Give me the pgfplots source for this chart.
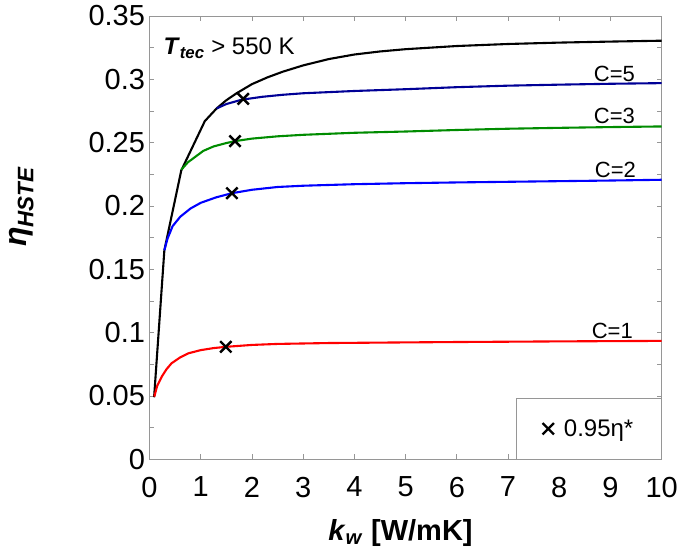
\documentclass[border=0pt]{standalone}
\usepackage{pgfplots}
\pgfplotsset{compat=1.18}
\usepackage{fontspec}
\setmainfont{Liberation Sans}
\definecolor{navy}{RGB}{0,0,150}
\definecolor{dgreen}{RGB}{0,140,0}
\definecolor{axgray}{RGB}{150,150,150}
\begin{document}
\begin{tikzpicture}
\useasboundingbox (-149.5pt,-98.7pt) rectangle (532.5pt,459.3pt);
\begin{axis}[
  at={(0pt,0pt)}, anchor=south west,
  width=512.2pt, height=443.3pt, scale only axis,
  xmin=0, xmax=10, ymin=0, ymax=0.35,
  xtick={0,1,2,3,4,5,6,7,8,9,10},
  ytick={0,0.05,0.1,0.15,0.2,0.25,0.3,0.35},
  yticklabels={0,0.05,0.1,0.15,0.2,0.25,0.3,0.35},
  minor ytick={0.025,0.075,0.125,0.175,0.225,0.275,0.325},
  scaled y ticks=false,
  tick pos=both, xticklabel pos=lower, yticklabel pos=left,
  tick align=inside, major tick length=5pt, minor tick length=5pt,
  axis line style={axgray, line width=0.8pt},
  every tick/.style={axgray, line width=0.8pt},
  /pgf/number format/assume math mode=true,
  tick label style={font=\fontsize{29}{32}\selectfont},
  xticklabel style={yshift=-14pt},
  yticklabel style={xshift=-1pt},
  xlabel={\textbf{\textit{k}\textsubscript{\textit{w}} [W/mK]}},
  ylabel={\textbf{\textit{η}\textsubscript{\textit{HSTE}}}},
  every axis x label/.style={at={(axis description cs:0.49,0)}, anchor=base, yshift=-81pt, font=\fontsize{29}{32}\selectfont},
  every axis y label/.style={at={(axis description cs:-0.25,0.57)}, anchor=center, rotate=90, font=\fontsize{32}{34}\selectfont},
  legend style={at={(1,0)}, anchor=south east, draw=axgray, line width=0.8pt, fill=white,
    font=\fontsize{24}{26}\selectfont, inner xsep=26pt, inner ysep=19pt},
  legend cell align=left,
]
% black envelope
\addplot[black, line width=2.1pt, forget plot] coordinates {
(0.09,0.049) (0.29,0.165) (0.62,0.228) (1.08,0.267) (1.31,0.277) (1.5,0.2835)
(1.7,0.289) (2.0,0.2962) (2.3,0.3015) (2.6,0.3060) (3.0,0.3110) (3.5,0.3160)
(4.0,0.3196) (4.5,0.3220) (5.0,0.3238) (6.0,0.3263) (7.0,0.3279) (8.0,0.3290)
(9.0,0.3298) (10,0.3305)};
% C=5
\addplot[navy, line width=2.1pt, forget plot] coordinates {
(1.31,0.277) (1.5,0.2805) (1.8,0.2839) (2.2,0.2862) (2.6,0.2878) (3,0.2890)
(4,0.2908) (5,0.2922) (6,0.2938) (7,0.2950) (8,0.2958) (9,0.2965) (10,0.297)};
% C=3
\addplot[dgreen, line width=2.1pt, forget plot] coordinates {
(0.62,0.2286) (0.75,0.2345) (0.9,0.239) (1.05,0.2435) (1.25,0.247) (1.5,0.2497)
(1.67,0.2512) (2.0,0.2532) (2.5,0.255) (3,0.2562) (4,0.2578) (5,0.2588)
(6,0.2600) (7,0.2610) (8,0.2617) (9,0.2623) (10,0.2628)};
% C=2
\addplot[blue, line width=2.1pt, forget plot] coordinates {
(0.29,0.165) (0.35,0.174) (0.45,0.184) (0.6,0.1915) (0.8,0.198) (1.0,0.2025)
(1.3,0.2068) (1.61,0.2101) (2.0,0.2128) (2.5,0.2150) (3,0.2160) (4,0.2172)
(5,0.2180) (6,0.2186) (7,0.2191) (8,0.2196) (9,0.2201) (10,0.2207)};
% C=1
\addplot[red, line width=2.1pt, forget plot] coordinates {
(0.094,0.0495) (0.15,0.058) (0.24,0.0653) (0.33,0.071) (0.43,0.0758) (0.6,0.0805)
(0.76,0.0837) (1.0,0.0862) (1.25,0.0878) (1.49,0.0888) (2.0,0.0903) (2.5,0.0911)
(3.5,0.0918) (5,0.0923) (6,0.0926) (8,0.0931) (10,0.0935)};
% markers
\addplot[only marks, mark=x, mark size=8pt, black, mark options={line width=2.4pt}] coordinates {
(1.49,0.0888) (1.61,0.2101) (1.67,0.2512) (1.83,0.2846)};
\addlegendentry{\hspace{8pt}0.95η*}
\node[anchor=south east, font=\fontsize{22}{24}\selectfont, inner sep=0pt] at (axis cs:9.48,0.2983) {C=5};
\node[anchor=south east, font=\fontsize{22}{24}\selectfont, inner sep=0pt] at (axis cs:9.48,0.2647) {C=3};
\node[anchor=south east, font=\fontsize{22}{24}\selectfont, inner sep=0pt] at (axis cs:9.50,0.2220) {C=2};
\node[anchor=south east, font=\fontsize{22}{24}\selectfont, inner sep=0pt] at (axis cs:9.44,0.0948) {C=1};
\node[anchor=base west, font=\fontsize{24}{26}\selectfont, inner sep=0pt] at (axis cs:0.27,0.3194)
  {\textbf{\textit{T}\textsubscript{\textit{tec}}} > 550 K};
\end{axis}
\end{tikzpicture}
\end{document}
